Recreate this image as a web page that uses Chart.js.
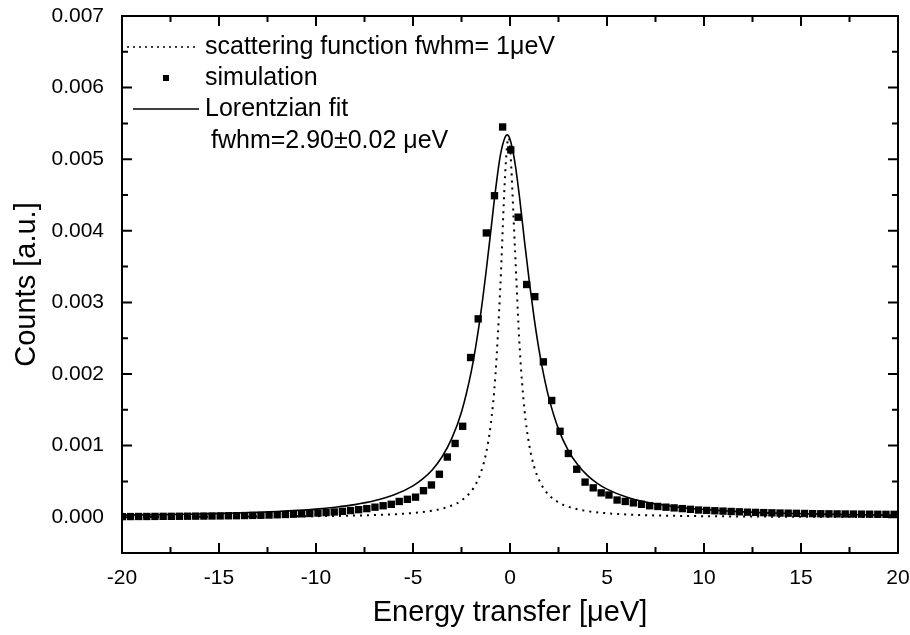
<!DOCTYPE html>
<html><head><meta charset="utf-8">
<script src="https://cdn.jsdelivr.net/npm/chart.js@4.4.0/dist/chart.umd.min.js"></script>
<style>html,body{margin:0;padding:0;background:#fff}#wrap{width:910px;height:635px}</style>
</head><body><div id="wrap"><canvas id="c" width="910" height="635"></canvas></div>
<script>
// ---- data ----
const simX = [-19.98,-19.56,-19.14,-18.72,-18.30,-17.88,-17.46,-17.04,-16.62,-16.20,
  -15.78,-15.36,-14.94,-14.52,-14.10,-13.68,-13.26,-12.84,-12.42,-12.00,
  -11.58,-11.16,-10.74,-10.32,-9.90,-9.48,-9.06,-8.64,-8.22,-7.80,
  -7.38,-6.96,-6.54,-6.12,-5.71,-5.29,-4.87,-4.46,-4.05,-3.64,
  -3.23,-2.83,-2.44,-2.03,-1.64,-1.22,-0.80,-0.38,
  0.04,0.42,0.86,1.28,1.72,2.15,2.58,3.01,3.44,3.87,
  4.29,4.70,5.10,5.52,5.94,6.36,6.78,7.20,7.62,8.04,
  8.46,8.88,9.30,9.72,10.14,10.56,10.98,11.40,11.82,12.24,
  12.66,13.08,13.50,13.92,14.34,14.76,15.18,15.60,16.02,16.44,
  16.86,17.28,17.70,18.12,18.54,18.96,19.38,19.80];
const simY = [0.000008,0.000009,0.00001,0.00001,0.000011,0.000012,0.000012,0.000013,0.000014,0.000015,
  0.000016,0.000017,0.000018,0.00002,0.000021,0.000023,0.000025,0.000027,0.00003,0.000034,
  0.000038,0.000042,0.000047,0.000052,0.000058,0.000065,0.000073,0.000082,0.000093,0.000105,
  0.00012,0.00014,0.00016,0.00018,0.00022,0.00025,0.00028,0.00037,0.00045,0.00060,
  0.00084,0.00103,0.00127,0.00223,0.00277,0.00397,0.00449,0.00545,
  0.00513,0.00419,0.00325,0.00308,0.00217,0.00163,0.00120,0.00089,0.00067,0.00049,
  0.00041,0.00034,0.00031,0.00024,0.00022,0.00020,0.00018,0.00016,0.00015,0.00014,
  0.00013,0.00012,0.00011,0.00010,0.000095,0.00009,0.000085,0.00008,0.000075,0.00007,
  0.000067,0.000064,0.000061,0.000058,0.000056,0.000054,0.000052,0.00005,0.000048,0.000047,
  0.000046,0.000045,0.000044,0.000043,0.000042,0.000041,0.00004,0.00004];

const fitX = [-20,-18,-16,-14,-12,-10,-9,-8,-7,-6,-5,-4.5,-4,-3.5,-3,-2.5,-2,-1.75,-1.5,-1.25,
  -1,-0.75,-0.5,-0.25,-0.15,0,0.25,0.5,0.75,1,1.25,1.5,1.75,2,2.5,3,3.5,4,4.5,5,
  6,7,8,9,10,12,14,16,18,20];
const fitY = [0.0000283,0.0000350,0.0000443,0.0000579,0.0000788,0.000113,0.000140,0.000176,0.000229,0.000309,
  0.000438,0.000535,0.000664,0.000844,0.00110,0.00147,0.00203,0.00241,0.00286,0.00339,
  0.00397,0.00456,0.00505,0.00531,0.00534,0.00528,0.00496,0.00445,0.00385,0.00328,
  0.00277,0.00233,0.00197,0.00167,0.00123,0.000934,0.000728,0.000581,0.000473,0.000392,
  0.000281,0.000211,0.000164,0.000131,0.000107,0.0000750,0.0000555,0.0000427,0.0000339,0.0000275];

const scatX = [-20,-15,-10,-8,-6,-5,-4,-3.5,-3,-2.5,-2,-1.75,-1.5,-1.25,-1,-0.75,-0.5,-0.25,-0.08,0,
  0.25,0.5,0.75,1,1.25,1.5,1.75,2,2.5,3,3.5,4,5,6,8,10,15,20];
const scatY = [0.0000036,0.0000064,0.0000145,0.0000228,0.0000405,0.0000584,0.0000915,0.000120,0.000163,0.000233,
  0.000361,0.000468,0.000625,0.000873,0.00128,0.00199,0.00321,0.00479,0.0053,0.00518,
  0.00378,0.00236,0.00149,0.000997,0.000701,0.000517,0.000395,0.000311,0.000207,0.000147,
  0.000109,0.0000847,0.0000548,0.0000385,0.0000218,0.0000140,0.0000063,0.0000035];

const xTicks = [-20,-15,-10,-5,0,5,10,15,20];
const xMinor = [-17.5,-12.5,-7.5,-2.5,2.5,7.5,12.5,17.5];
const yTicks = [0,0.001,0.002,0.003,0.004,0.005,0.006,0.007];
const yMinor = [0.0005,0.0015,0.0025,0.0035,0.0045,0.0055,0.0065];
const legendLabels = ['scattering function fwhm= 1\u03bceV','simulation','Lorentzian fit','fwhm=2.90\u00b10.02 \u03bceV'];
const xTitle = 'Energy transfer [\u03bceV]';
const yTitle = 'Counts [a.u.]';

const FONT = '"Liberation Sans", Arial, Helvetica, sans-serif';
const pts = (xs, ys) => xs.map((x, i) => ({x, y: ys[i]}));

const framePlugin = {
  id: 'frame',
  afterDraw(chart) {
    const {ctx, chartArea: a, scales: {x, y}} = chart;
    ctx.save();
    ctx.strokeStyle = '#000';
    ctx.lineWidth = 2;
    ctx.setLineDash([]);
    ctx.strokeRect(a.left, a.top, a.right - a.left, a.bottom - a.top);
    const tick = (px, len, horiz) => {
      ctx.beginPath();
      if (horiz) {
        ctx.moveTo(px, a.bottom); ctx.lineTo(px, a.bottom - len);
        ctx.moveTo(px, a.top); ctx.lineTo(px, a.top + len);
      } else {
        ctx.moveTo(a.left, px); ctx.lineTo(a.left + len, px);
        ctx.moveTo(a.right, px); ctx.lineTo(a.right - len, px);
      }
      ctx.stroke();
    };
    xTicks.forEach(v => tick(x.getPixelForValue(v), 10, true));
    xMinor.forEach(v => tick(x.getPixelForValue(v), 6, true));
    yTicks.forEach(v => tick(y.getPixelForValue(v), 10, false));
    yMinor.forEach(v => tick(y.getPixelForValue(v), 6, false));

    // legend
    ctx.fillStyle = '#000';
    ctx.font = '25px ' + FONT;
    ctx.textBaseline = 'middle';
    ctx.textAlign = 'left';
    const rows = [47, 78, 109, 141];
    ctx.lineWidth = 1.6;
    ctx.setLineDash([2, 4]);
    ctx.beginPath(); ctx.moveTo(127, rows[0]); ctx.lineTo(199, rows[0]); ctx.stroke();
    ctx.setLineDash([]);
    ctx.fillRect(163, rows[1] - 3, 6, 6);
    ctx.lineWidth = 1.5;
    ctx.beginPath(); ctx.moveTo(133, rows[2]); ctx.lineTo(199, rows[2]); ctx.stroke();
    ctx.fillText(legendLabels[0], 205, rows[0]);
    ctx.fillText(legendLabels[1], 205, rows[1]);
    ctx.fillText(legendLabels[2], 205, rows[2]);
    ctx.fillText(legendLabels[3], 211, rows[3]);
    ctx.restore();
  }
};

new Chart(document.getElementById('c'), {
  type: 'scatter',
  data: {
    datasets: [
      { label: 'simulation', data: pts(simX, simY), pointStyle: 'rect', pointRadius: 5.2,
        backgroundColor: '#000', borderColor: '#000', borderWidth: 0, showLine: false },
      { label: 'Lorentzian fit', data: pts(fitX, fitY), showLine: true, pointRadius: 0,
        borderColor: '#000', borderWidth: 1.6, cubicInterpolationMode: 'monotone' },
      { label: 'scattering function', data: pts(scatX, scatY), showLine: true, pointRadius: 0,
        borderColor: '#000', borderWidth: 2, borderDash: [2, 5], cubicInterpolationMode: 'monotone' }
    ]
  },
  options: {
    responsive: false, animation: false, devicePixelRatio: 1,
    layout: { padding: { left: 0, right: 12, top: 16, bottom: 0 } },
    plugins: { legend: { display: false }, tooltip: { enabled: false } },
    scales: {
      x: {
        type: 'linear', min: -20, max: 20,
        afterFit: s => { s.height = 82; s.paddingLeft = 0; s.paddingRight = 0; },
        afterBuildTicks: s => { s.ticks = xTicks.map(v => ({value: v})); },
        grid: { display: false, drawTicks: false },
        border: { display: false },
        ticks: { color: '#000', padding: 13, font: { family: FONT, size: 21 }, callback: v => String(v), maxRotation: 0 },
        title: { display: true, text: xTitle, color: '#000', font: { family: FONT, size: 29, lineHeight: 1 }, padding: { top: 0, bottom: 8 } }
      },
      y: {
        type: 'linear', min: -0.0005, max: 0.007,
        afterFit: s => { s.width = 122; s.paddingTop = 0; s.paddingBottom = 0; },
        afterBuildTicks: s => { s.ticks = yTicks.map(v => ({value: v})); },
        grid: { display: false, drawTicks: false },
        border: { display: false },
        ticks: { color: '#000', padding: 18, font: { family: FONT, size: 21 }, callback: v => Number(v).toFixed(3) },
        title: { display: true, text: yTitle, color: '#000', font: { family: FONT, size: 29, lineHeight: 1 }, padding: { top: 12, bottom: 0 } }
      }
    }
  },
  plugins: [framePlugin]
});
</script>
</body></html>
